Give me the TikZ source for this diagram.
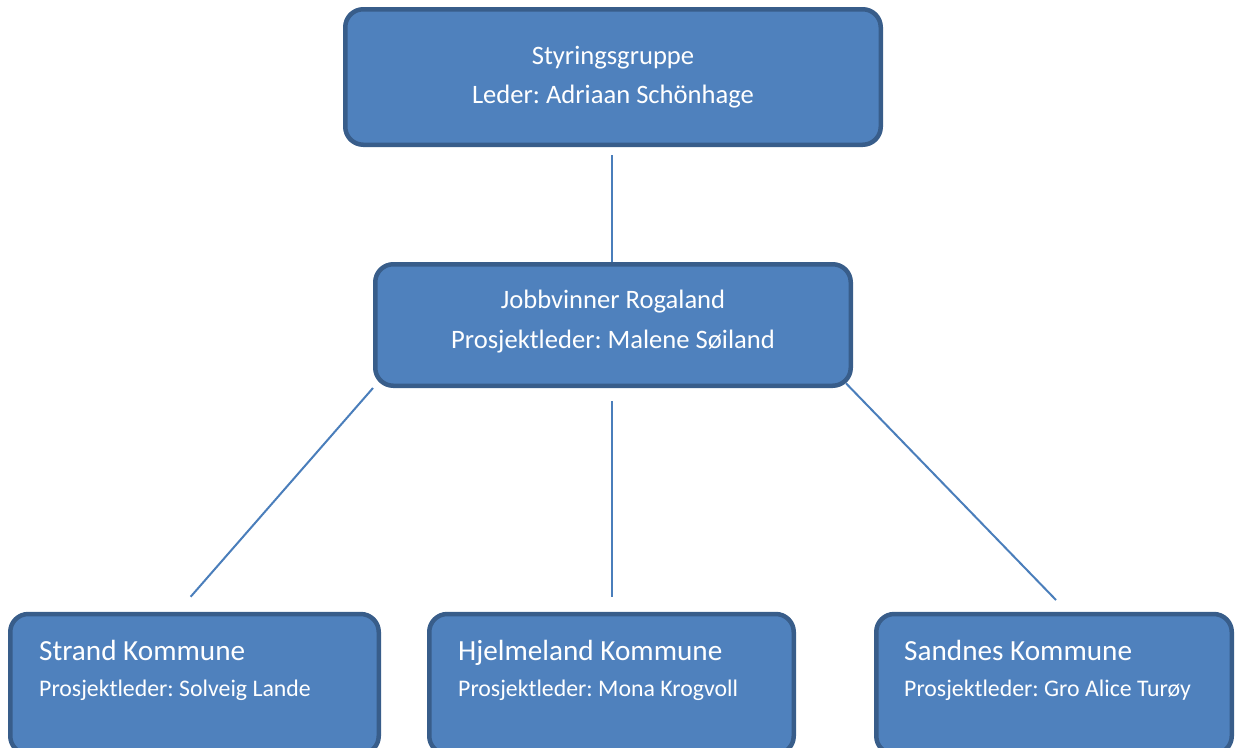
\documentclass[tikz,border=0pt]{standalone}
\usepackage{fontspec}
\setmainfont{Carlito}
\frenchspacing
\usetikzlibrary{positioning,backgrounds}
\definecolor{boxfill}{HTML}{4F81BD}
\definecolor{boxedge}{HTML}{385D8A}
\definecolor{linkline}{HTML}{4A7EBB}
\tikzstyle{org}=[draw=boxedge,fill=boxfill,line width=4.5pt,rounded corners=18pt,text=white,inner sep=0pt]
\tikzstyle{leder}=[org,align=center,font=\fontsize{26.6}{39.4}\selectfont]
\tikzstyle{kommune}=[org,minimum height=140pt]
\tikzstyle{knavn}=[text=white,inner sep=0pt,anchor=base west,font=\fontsize{29.2}{35}\selectfont]
\tikzstyle{kleder}=[knavn,font=\fontsize{23.8}{29}\selectfont]
\tikzstyle{link}=[draw=linkline,line width=2pt]

\begin{document}
\begin{tikzpicture}[x=1pt,y=-1pt]
    \useasboundingbox (0,0) rectangle (1236,747);
    \clip (0,0) rectangle (1236,747);

    \node (styr) [leder,minimum width=535.5pt,minimum height=135.5pt] at (613,77) {Styringsgruppe\\Leder: Adriaan Schönhage};
    \node (jobb) [leder,minimum width=475.5pt,minimum height=121.5pt] at (613,325) {Jobbvinner Rogaland\\Prosjektleder: Malene Søiland\\[-28pt]};

    % kommunene
    \node (strand) [kommune,minimum width=368.5pt] at (194.5,684) {};
    \node (hjelm) [kommune,minimum width=364.5pt] at (611.5,684) {};
    \node (sandnes) [kommune,minimum width=355.5pt] at (1054,684) {};

    \node (strandnavn) [knavn] at ([xshift=31pt,yshift=-49pt]strand.north west) {Strand Kommune};
    \node (strandleder) [kleder] at ([yshift=-36pt]strandnavn.base west) {Prosjektleder: Solveig Lande};
    \node (hjelmnavn) [knavn] at ([xshift=31pt,yshift=-49pt]hjelm.north west) {Hjelmeland Kommune};
    \node (hjelmleder) [kleder] at ([yshift=-36pt]hjelmnavn.base west) {Prosjektleder: Mona Krogvoll};
    \node (sandnesnavn) [knavn] at ([xshift=30pt,yshift=-49pt]sandnes.north west) {Sandnes Kommune};
    \node (sandnesleder) [kleder] at ([yshift=-36pt]sandnesnavn.base west) {Prosjektleder: Gro Alice Turøy};

    \coordinate (styrfot) at (611.7,155);
    \coordinate (jobbfot) at (611.7,401);
    \coordinate (tilstrand) at (190.7,596.7);
    \coordinate (tilhjelm) at (611.7,596.7);
    \coordinate (tilsandnes) at (1056,600);

    \begin{scope}[on background layer]
    \draw[link] (styrfot) -- (styrfot |- jobb.north);
    \draw[link] (jobb.south west) -- (tilstrand);
    \draw[link] (jobbfot) -- (tilhjelm);
    \draw[link] ([xshift=-7pt,yshift=4.7pt]jobb.south east) -- (tilsandnes);
    \end{scope}
\end{tikzpicture}
\end{document}
